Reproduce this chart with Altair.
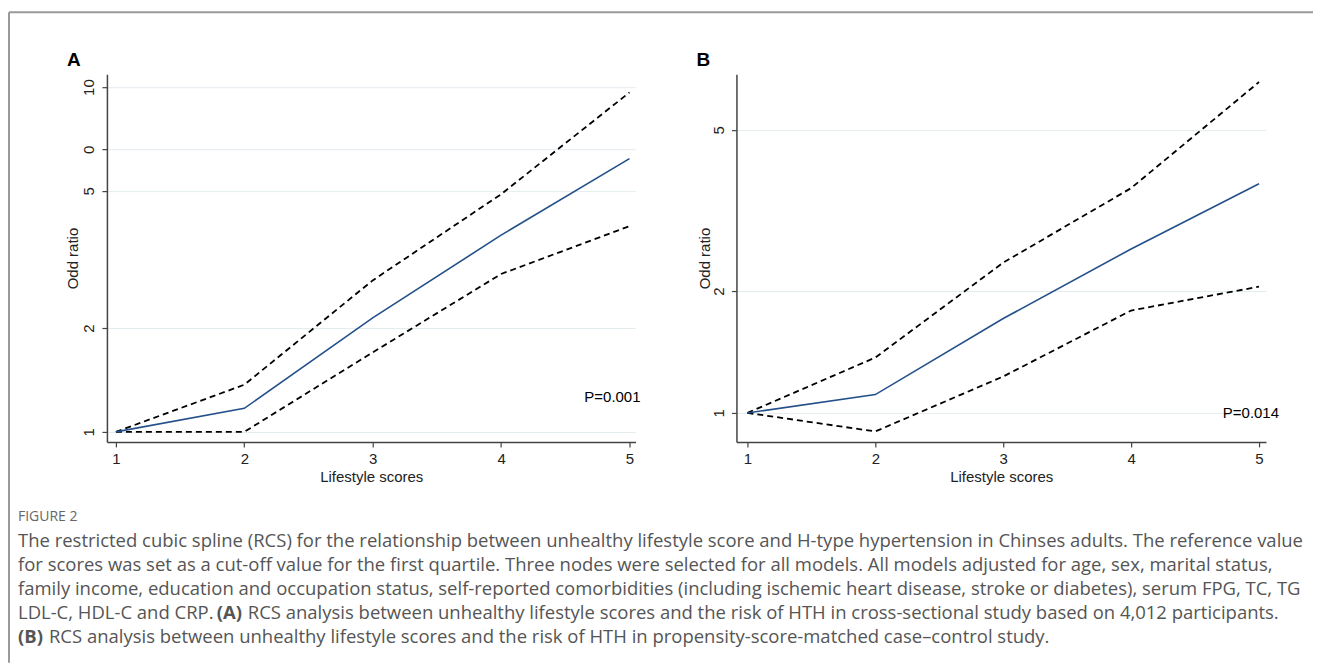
import altair as alt
import pandas as pd

# ---------------- data ----------------
scores = [1, 2, 3, 4, 5]

a_est = [1.0, 1.17, 2.14, 3.72, 6.2]
a_upper = [1.0, 1.37, 2.75, 4.89, 9.65]
a_lower = [1.0, 1.0, 1.70, 2.87, 3.95]

b_est = [1.0, 1.11, 1.71, 2.54, 3.68]
b_upper = [1.0, 1.37, 2.35, 3.59, 6.56]
b_lower = [1.0, 0.90, 1.23, 1.79, 2.05]

a_ytick_vals = [1, 2, 5, 6.6, 10]
a_ytick_labels = ["1", "2", "5", "0", "10"]
b_ytick_vals = [1, 2, 5]
b_ytick_labels = ["1", "2", "5"]

p_text_a = "P=0.001"
p_text_b = "P=0.014"

caption_head = "FIGURE 2"
caption_lines = [
    "The restricted cubic spline (RCS) for the relationship between unhealthy lifestyle score and H-type hypertension in Chinses adults. The reference value",
    "for scores was set as a cut-off value for the first quartile. Three nodes were selected for all models. All models adjusted for age, sex, marital status,",
    "family income, education and occupation status, self-reported comorbidities (including ischemic heart disease, stroke or diabetes), serum FPG, TC, TG",
]
caption_l4_pre = "LDL-C, HDL-C and CRP."
caption_l4_bold = "(A)"
caption_l4_post = "RCS analysis between unhealthy lifestyle scores and the risk of HTH in cross-sectional study based on 4,012 participants."
caption_l5_bold = "(B)"
caption_l5_post = "RCS analysis between unhealthy lifestyle scores and the risk of HTH in propensity-score-matched case\u2013control study."


def long_df(est, upper, lower):
    rows = []
    for s, e, u, l in zip(scores, est, upper, lower):
        rows.append({"score": s, "or": e, "series": "est"})
        rows.append({"score": s, "or": u, "series": "upper"})
        rows.append({"score": s, "or": l, "series": "lower"})
    return pd.DataFrame(rows)


def label_expr(vals, labels):
    expr = "''"
    for v, lab in zip(vals[::-1], labels[::-1]):
        expr = f"abs(datum.value - {v}) < 0.001 ? '{lab}' : ({expr})"
    return expr


AX = "Liberation Sans"
NAVY = "#24508a"
one = pd.DataFrame({"d": [0]})


def text_layer(txt, x, y, **kw):
    return alt.Chart(one).mark_text(**kw).encode(
        x=alt.value(x), y=alt.value(y), text=alt.value(txt)
    )


def panel(df, xdom, ydom, yvals, ylabels, w, h, letter, ptext, px, py, title_x):
    x = alt.X(
        "score:Q",
        scale=alt.Scale(domain=xdom, nice=False, zero=False),
        axis=alt.Axis(
            values=scores, format="d", title="Lifestyle scores", grid=False,
            labelBaseline="top", labelAlign="center", labelPadding=5,
            titleX=w / 2, titleY=35, titleBaseline="middle", titleAlign="center",
        ),
    )
    y = alt.Y(
        "or:Q",
        scale=alt.Scale(type="log", domain=ydom, nice=False),
        axis=alt.Axis(
            values=yvals, labelExpr=label_expr(yvals, ylabels), title="Odd ratio",
            grid=True, labelAngle=270, labelAlign="center", labelBaseline="bottom",
            labelPadding=5, titleAngle=270, titleX=title_x, titleY=h / 2,
            titleBaseline="middle", titleAlign="center",
        ),
    )
    base = alt.Chart(df)
    ci = base.transform_filter("datum.series != 'est'").mark_line(
        color="black", strokeDash=[6, 4], strokeWidth=1.8
    ).encode(x=x, y=y, detail="series:N")
    est = base.transform_filter("datum.series == 'est'").mark_line(
        color=NAVY, strokeWidth=1.6
    ).encode(x=x, y=y)
    lab = text_layer(letter, -40, -8, font=AX, fontSize=19, fontWeight="bold",
                     align="left", baseline="alphabetic", color="black")
    p = text_layer(ptext, px, py, font=AX, fontSize=15, align="right",
                   baseline="middle", color="black")
    return [ci, est, lab, p]


W, H = 529, 368

layers_a = panel(long_df(a_est, a_upper, a_lower), [0.93, 5.047], [0.935, 10.9],
                 a_ytick_vals, a_ytick_labels, W, H, "A", p_text_a, 534, 323, -34)
layers_b = panel(long_df(b_est, b_upper, b_lower), [0.914, 5.055], [0.848, 6.86],
                 b_ytick_vals, b_ytick_labels, 530, H, "B", p_text_b, 543, 339, -32)

# frame lines (drawn from panel A's group)
frame_left = alt.Chart(one).mark_rule(color="#9a9a9a", strokeWidth=2).encode(
    x=alt.value(-98), y=alt.value(-62), y2=alt.value(589)
)
frame_top = alt.Chart(one).mark_rule(color="#9a9a9a", strokeWidth=2).encode(
    x=alt.value(-98), x2=alt.value(1207), y=alt.value(-62)
)

CAP = "Open Sans"
CAPC = "#555555"
CFS = 18.5
cap_layers = [
    text_layer(caption_head, -89, 443, font=CAP, fontSize=14, color="#666666",
               align="left", baseline="middle"),
]
for i, line in enumerate(caption_lines):
    cap_layers.append(text_layer(line, -89, 467 + 24 * i, font=CAP, fontSize=CFS,
                                 color=CAPC, align="left", baseline="middle"))
cap_layers += [
    text_layer(caption_l4_pre, -89, 539, font=CAP, fontSize=CFS, color=CAPC,
               align="left", baseline="middle"),
    text_layer(caption_l4_bold, 110, 539, font=CAP, fontSize=CFS, color=CAPC,
               fontWeight="bold", align="left", baseline="middle"),
    text_layer(caption_l4_post, 141, 539, font=CAP, fontSize=CFS, color=CAPC,
               align="left", baseline="middle"),
    text_layer(caption_l5_bold, -89, 563, font=CAP, fontSize=CFS, color=CAPC,
               fontWeight="bold", align="left", baseline="middle"),
    text_layer(caption_l5_post, -58, 563, font=CAP, fontSize=CFS, color=CAPC,
               align="left", baseline="middle"),
]

chart_a = alt.layer(frame_left, frame_top, *layers_a, *cap_layers).properties(width=W, height=H)
chart_b = alt.layer(*layers_b).properties(width=530, height=H)

chart = alt.hconcat(chart_a, chart_b, spacing=101, bounds="flush").properties(
    padding={"left": 0, "top": 3, "right": 0, "bottom": 0}
).configure_view(stroke=None).configure_axis(
    domainColor="#444444", domainWidth=1.5, tickColor="#444444", tickWidth=1.2,
    tickSize=5, labelFont=AX, labelFontSize=15, labelColor="#222222",
    titleFont=AX, titleFontSize=15, titleFontWeight="normal", titleColor="#222222",
    gridColor="#e4ecef", gridWidth=1,
)

chart.save("out.html", embed_options={"renderer": "svg", "actions": False})
